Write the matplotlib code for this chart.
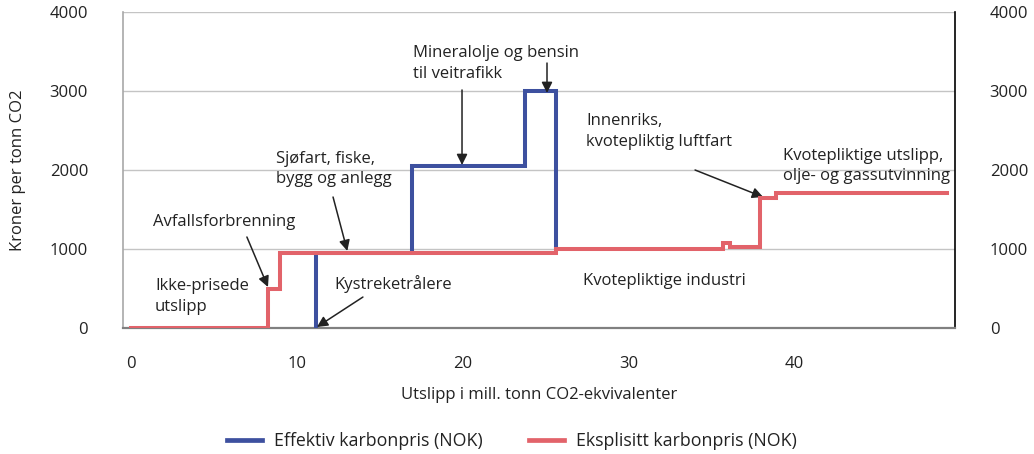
import matplotlib
matplotlib.use('Agg')
import matplotlib.pyplot as plt
from matplotlib.lines import Line2D

plt.rcParams['font.family'] = ['Open Sans', 'DejaVu Sans']
plt.rcParams['font.size'] = 12

# eksplisitt karbonpris (trappekurve, steps-post)
red_x = [0, 8.27, 9.0, 25.65, 35.7, 36.1, 37.9, 38.9, 49.2]
red_y = [0, 500, 950, 1000, 1070, 1030, 1650, 1710, 1710]

# effektiv karbonpris der den avviker fra eksplisitt
blue_x = [11.16, 11.16, 16.95, 23.75, 25.65, 25.65]
blue_y = [0, 950, 2050, 3000, 1000, 1000]

x_ticks = [0, 10, 20, 30, 40]
y_ticks = [0, 1000, 2000, 3000, 4000]

RED = '#e2636a'
BLUE = '#3d509f'
TXT = '#222222'

fig = plt.figure(figsize=(10.34, 4.54), dpi=100)
ax = fig.add_axes([0.1187, 0.2775, 0.8049, 0.6961])

ax.plot(blue_x, blue_y, drawstyle='steps-post', color=BLUE, lw=2.9,
        solid_joinstyle='miter', zorder=3)
ax.plot(red_x, red_y, drawstyle='steps-post', color=RED, lw=2.9,
        solid_joinstyle='miter', zorder=4)

ax.set_xlim(-0.48, 49.66)
ax.set_ylim(0, 4000)
ax.set_xticks(x_ticks)
ax.set_yticks(y_ticks)
ax.grid(axis='y', color='#c4c4c4', lw=1)
ax.set_axisbelow(True)

ax.spines['top'].set_visible(False)
ax.spines['left'].set_color('#a8a8a8')
ax.spines['left'].set_linewidth(1.2)
ax.spines['right'].set_color('#000000')
ax.spines['right'].set_linewidth(1.2)
ax.spines['bottom'].set_color('#808080')
ax.spines['bottom'].set_linewidth(1.6)

ax.tick_params(axis='y', length=0, pad=25, labelright=True, labelcolor=TXT)
ax.tick_params(axis='x', length=0, pad=20, labelcolor=TXT)

fig.text(18 / 1034, 1 - 170 / 454, 'Kroner per tonn CO2', rotation=90,
         ha='center', va='center', color=TXT)
fig.text(539 / 1034, 1 - 395 / 454, 'Utslipp i mill. tonn CO2-ekvivalenter',
         ha='center', va='center', color=TXT)

ls = 1.35
ax.text(1.46, 399, 'Ikke-prisede\nutslipp', va='center', color=TXT, linespacing=ls)
ax.text(27.25, 600, 'Kvotepliktige industri', va='center', color=TXT)
ax.text(39.3, 2051, 'Kvotepliktige utslipp,\nolje- og gassutvinning', va='center',
        color=TXT, linespacing=ls)

arrow = dict(arrowstyle='-|>', color=TXT, lw=1.1, mutation_scale=16,
             shrinkA=0, shrinkB=0)
ax.text(1.34, 1342, 'Avfallsforbrenning', va='center', color=TXT)
ax.annotate('', xy=(8.27, 519), xytext=(7.0, 1152), arrowprops=arrow)

ax.text(8.75, 2013, 'Sjøfart, fiske,\nbygg og anlegg', va='center', color=TXT,
        linespacing=ls)
ax.annotate('', xy=(13.05, 975), xytext=(12.19, 1658), arrowprops=arrow)

ax.text(12.25, 557, 'Kystreketrålere', va='center', color=TXT)
ax.annotate('', xy=(11.22, 13), xytext=(13.99, 392), arrowprops=arrow)

ax.text(17.0, 3348, 'Mineralolje og bensin\ntil veitrafikk', va='center',
        color=TXT, linespacing=ls)
ax.annotate('', xy=(19.96, 2063), xytext=(19.96, 3013), arrowprops=arrow)
ax.annotate('', xy=(25.08, 2975), xytext=(25.08, 3354), arrowprops=arrow)

ax.text(27.43, 2487, 'Innenriks,\nkvotepliktig luftfart', va='center',
        color=TXT, linespacing=ls)
ax.annotate('', xy=(38.1, 1658), xytext=(34.0, 2000), arrowprops=arrow)

handles = [Line2D([], [], color=BLUE, lw=3.4),
           Line2D([], [], color=RED, lw=3.4)]
fig.legend(handles, ['Effektiv karbonpris (NOK)', 'Eksplisitt karbonpris (NOK)'],
           loc='center', bbox_to_anchor=(0.495, 0.029), ncol=2, frameon=False,
           fontsize=12.8, handlelength=2.0, handletextpad=0.65, columnspacing=2.6,
           labelcolor=TXT)

fig.savefig('out.png', dpi=100)
